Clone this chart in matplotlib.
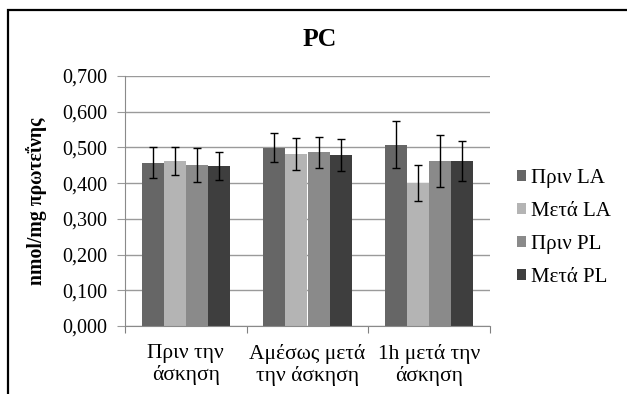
import matplotlib
matplotlib.use("Agg")
import matplotlib.pyplot as plt
import numpy as np
from matplotlib.patches import Rectangle

categories = ["Πριν την\nάσκηση", "Αμέσως μετά\nτην άσκηση", "1h μετά την\nάσκηση"]
series_names = ["Πριν LA", "Μετά LA", "Πριν PL", "Μετά PL"]
values = {
    "Πριν LA": [0.457, 0.499, 0.508],
    "Μετά LA": [0.463, 0.482, 0.400],
    "Πριν PL": [0.450, 0.486, 0.463],
    "Μετά PL": [0.448, 0.479, 0.463],
}
errors = {
    "Πριν LA": [0.043, 0.040, 0.066],
    "Μετά LA": [0.039, 0.044, 0.050],
    "Πριν PL": [0.048, 0.043, 0.073],
    "Μετά PL": [0.038, 0.044, 0.056],
}
yticks = [0.0, 0.1, 0.2, 0.3, 0.4, 0.5, 0.6, 0.7]
colors = ["#666666", "#b4b4b4", "#8a8a8a", "#3e3e3e"]

plt.rcParams['font.family'] = ['Liberation Serif', 'DejaVu Serif']

fig = plt.figure(figsize=(6.27, 3.94), dpi=100)
ax = fig.add_axes([125/627, 1-326/394, (490-125)/627, (326-76)/394])

x = np.arange(len(categories))
bw = 0.181
n = len(series_names)
for i, name in enumerate(series_names):
    pos = x + (i - (n-1)/2) * bw
    ax.bar(pos, values[name], bw, color=colors[i], label=name, zorder=2)
    ax.errorbar(pos, values[name], yerr=errors[name], fmt='none', ecolor='black',
                elinewidth=1.0, capsize=3, capthick=1.0, zorder=3)

ax.set_xlim(-0.5, len(categories)-0.5)
ax.set_ylim(0, 0.7)
ax.set_yticks(yticks)
ax.set_yticklabels([f"{v:.3f}".replace('.', ',') for v in yticks], fontsize=14.5)
ax.yaxis.grid(True, color='#9a9a9a', linewidth=1.0, zorder=0)
ax.set_axisbelow(True)
ax.set_xticks(np.arange(len(categories)+1) - 0.5, minor=False)
ax.set_xticklabels([])
ax.set_xticks(x, minor=True)
ax.set_xticklabels(categories, minor=True, fontsize=15.5, linespacing=1.15)
ax.tick_params(axis='x', which='minor', length=0, pad=13)
ax.tick_params(axis='x', which='major', length=5, color='#808080', direction='out')
ax.tick_params(axis='y', length=6, color='#9a9a9a', pad=7)
for s in ['top', 'right']:
    ax.spines[s].set_visible(False)
for s in ['left', 'bottom']:
    ax.spines[s].set_color('#8a8a8a')

ax.set_ylabel("nmol/mg πρωτεΐνης", fontsize=14.2, fontweight='bold', labelpad=11)
fig.text(320/627, 1-40/394, "PC", fontsize=18.5, fontweight='bold', ha='center', va='center')

leg = fig.legend(loc='center left', bbox_to_anchor=(498/627, 1-228/394), frameon=False,
                 fontsize=15, handlelength=0.45, handleheight=0.45, handletextpad=0.25,
                 labelspacing=0.68)

fig.patches.append(Rectangle((8/627, -0.1), 1.2, 1.1 - 10/394, transform=fig.transFigure,
                             fill=False, edgecolor='black', linewidth=1.6, zorder=10))

fig.savefig("out.png", dpi=100)
